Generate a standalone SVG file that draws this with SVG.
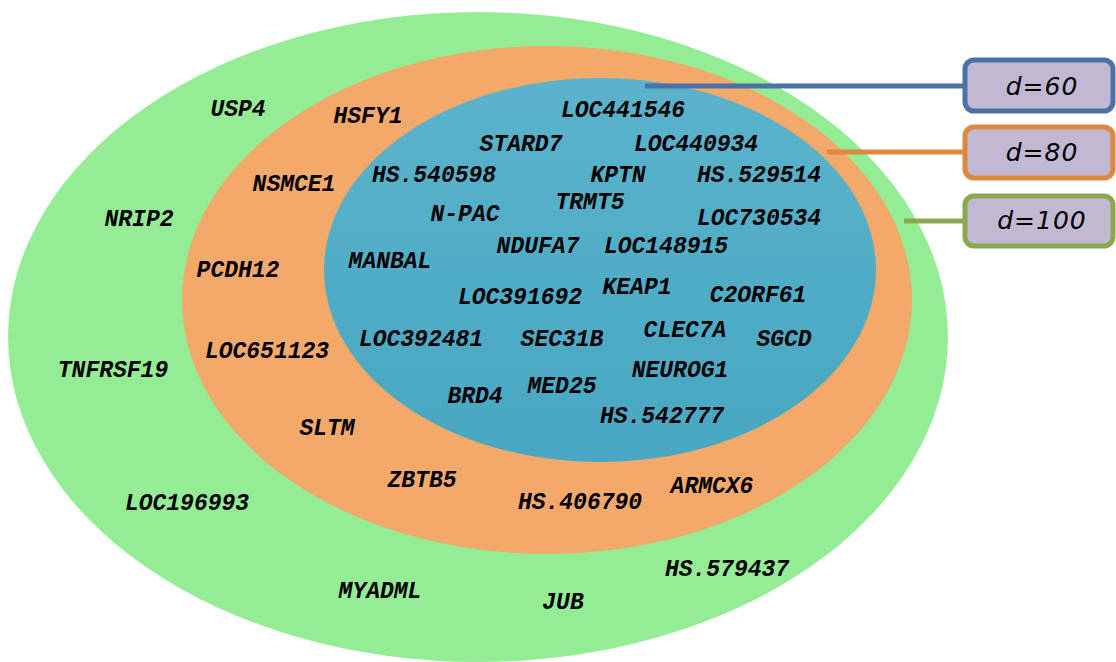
<svg xmlns="http://www.w3.org/2000/svg" width="1116" height="662" viewBox="0 0 1116 662">
<defs>
<style>
.g{font-family:"Liberation Mono","Courier New",monospace;font-weight:bold;font-style:italic;font-size:23px;fill:#000;text-anchor:middle}
.d{font-family:"DejaVu Sans",Verdana,sans-serif;font-style:italic;font-size:25px;fill:#000;text-anchor:middle;letter-spacing:1px}
.box{fill:#C1B9D2;stroke-width:5}
.ln{stroke-width:5;fill:none}
</style>
<linearGradient id="bl" x1="0" y1="0" x2="0" y2="1">
<stop offset="0" stop-color="#5AB3CB"/>
<stop offset="1" stop-color="#48A7C2"/>
</linearGradient>
</defs>
<rect width="1116" height="662" fill="#fff"/>
<g id="ring100"><ellipse cx="478" cy="337" rx="470" ry="325" fill="#94EC94"/></g>
<g id="ring80"><ellipse cx="547" cy="300" rx="365" ry="254" fill="#F3A96A"/></g>
<g id="ring60"><ellipse cx="600" cy="270" rx="276" ry="192" fill="url(#bl)"/></g>
<g id="connectors">
<line class="ln" x1="645" y1="86" x2="965" y2="86" stroke="#4A72A8"/>
<line class="ln" x1="827" y1="152" x2="965" y2="152" stroke="#DD883F"/>
<line class="ln" x1="904" y1="221" x2="965" y2="221" stroke="#8AA94F"/>
</g>
<g id="label60"><rect class="box" x="965" y="60" width="148" height="51" rx="9" stroke="#4A72A8"/><text class="d" x="1042" y="95">d=60</text></g>
<g id="label80"><rect class="box" x="965" y="127" width="148" height="51" rx="9" stroke="#DD883F"/><text class="d" x="1042" y="161">d=80</text></g>
<g id="label100"><rect class="box" x="965" y="196" width="148" height="50" rx="9" stroke="#8AA94F"/><text class="d" x="1042" y="229">d=100</text></g>
<g id="genes">
<text class="g" x="238" y="116">USP4</text>
<text class="g" x="368" y="123">HSFY1</text>
<text class="g" x="623" y="117">LOC441546</text>
<text class="g" x="521" y="151">STARD7</text>
<text class="g" x="696" y="151">LOC440934</text>
<text class="g" x="294" y="191">NSMCE1</text>
<text class="g" x="434" y="182">HS.540598</text>
<text class="g" x="618" y="182">KPTN</text>
<text class="g" x="759" y="182">HS.529514</text>
<text class="g" x="139" y="226">NRIP2</text>
<text class="g" x="465" y="221">N-PAC</text>
<text class="g" x="590" y="209">TRMT5</text>
<text class="g" x="759" y="225">LOC730534</text>
<text class="g" x="538" y="253">NDUFA7</text>
<text class="g" x="666" y="253">LOC148915</text>
<text class="g" x="390" y="268">MANBAL</text>
<text class="g" x="238" y="277">PCDH12</text>
<text class="g" x="520" y="304">LOC391692</text>
<text class="g" x="637" y="294">KEAP1</text>
<text class="g" x="758" y="302">C2ORF61</text>
<text class="g" x="421" y="346">LOC392481</text>
<text class="g" x="562" y="346">SEC31B</text>
<text class="g" x="685" y="337">CLEC7A</text>
<text class="g" x="784" y="346">SGCD</text>
<text class="g" x="267" y="358">LOC651123</text>
<text class="g" x="113" y="377">TNFRSF19</text>
<text class="g" x="680" y="377">NEUROG1</text>
<text class="g" x="562" y="393">MED25</text>
<text class="g" x="475" y="403">BRD4</text>
<text class="g" x="662" y="423">HS.542777</text>
<text class="g" x="327" y="435">SLTM</text>
<text class="g" x="422" y="487">ZBTB5</text>
<text class="g" x="712" y="493">ARMCX6</text>
<text class="g" x="580" y="509">HS.406790</text>
<text class="g" x="187" y="510">LOC196993</text>
<text class="g" x="727" y="576">HS.579437</text>
<text class="g" x="380" y="598">MYADML</text>
<text class="g" x="563" y="609">JUB</text>
</g>
</svg>
